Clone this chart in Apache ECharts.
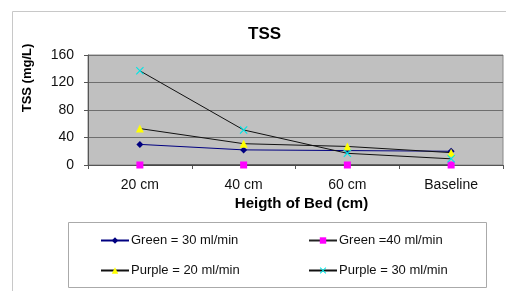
<!DOCTYPE html>
<html lang="en">
<head>
    <meta charset="UTF-8">
    <title>TSS</title>
    <script src="https://cdn.jsdelivr.net/npm/echarts@6/dist/echarts.min.js"></script>
    <style>
        html, body { margin: 0; padding: 0; background: #fff; }
        #fig1 { width: 506px; height: 291px; }
    </style>
</head>
<body>
    <div id="fig1"></div>
    <script>
        // 数据
        let categories = ['20 cm', '40 cm', '60 cm', 'Baseline'];
        let green30 = [30, 22, 21, 20];
        let green40 = [0, 0, 0, 0];
        let purple20 = [53, 31, 27, 18];
        let purple30 = [137, 51, 17, 9];
        let seriesNames = ['Green = 30 ml/min', 'Green =40 ml/min', 'Purple = 20 ml/min', 'Purple = 30 ml/min'];

        let font = 'Liberation Sans, Arial, sans-serif';
        let crossPath = 'path://M0,1L1,0L5,4L9,0L10,1L6,5L10,9L9,10L5,6L1,10L0,9L4,5Z';

        function makeLegend (name, left, top) {
            return {
                data: [name],
                left: left,
                top: top,
                itemWidth: 28,
                itemHeight: 8,
                padding: 0,
                itemGap: 2,
                selectedMode: false,
                textStyle: { fontFamily: font, fontSize: 13, color: '#111', padding: [0, 0, 0, -3] }
            };
        }

        let fig1 = echarts.init(document.getElementById('fig1'), null, {renderer: 'canvas'});
        let option = {
            animation: false,
            backgroundColor: '#fff',
            title: {
                text: 'TSS',
                left: 248,
                top: 26,
                padding: 0,
                textStyle: { fontFamily: font, fontSize: 17, fontWeight: 'bold', color: '#000' }
            },
            graphic: [
                {
                    type: 'rect', left: 12, top: 11, z: -10,
                    shape: { width: 500, height: 290 },
                    style: { fill: '#fff', stroke: '#c8c8c8', lineWidth: 1 }
                },
                {
                    type: 'rect', left: 68, top: 222, z: -5,
                    shape: { width: 418, height: 65 },
                    style: { fill: '#fff', stroke: '#aaa', lineWidth: 1 }
                },
                {
                    type: 'text', x: 27, y: 78, rotation: Math.PI / 2,
                    style: {
                        text: 'TSS (mg/L)', fontFamily: font, fontSize: 13, fontWeight: 'bold', fill: '#000',
                        align: 'center', verticalAlign: 'middle'
                    }
                }
            ],
            legend: [
                makeLegend(seriesNames[0], 100, 234),
                makeLegend(seriesNames[1], 308, 234),
                makeLegend(seriesNames[2], 100, 264),
                makeLegend(seriesNames[3], 308, 264)
            ],
            grid: {
                left: 88,
                right: 3,
                top: 55,
                bottom: 126,
                show: true,
                backgroundColor: '#c0c0c0',
                borderColor: '#888',
                borderWidth: 1
            },
            xAxis: {
                type: 'category',
                data: categories,
                boundaryGap: true,
                name: 'Heigth of Bed (cm)',
                nameLocation: 'center',
                nameGap: 31,
                nameTextStyle: { fontFamily: font, fontSize: 15, fontWeight: 'bold', color: '#000', padding: [0, 0, 0, 12] },
                axisLine: { lineStyle: { color: '#555' } },
                axisTick: { show: true, inside: false, length: 4, lineStyle: { color: '#555' } },
                axisLabel: { fontFamily: font, fontSize: 14, color: '#111', margin: 13 }
            },
            yAxis: {
                type: 'value',
                min: 0,
                max: 160,
                interval: 40,
                axisLine: { show: true, lineStyle: { color: '#555' } },
                axisTick: { show: true, length: 4, lineStyle: { color: '#555' } },
                axisLabel: { fontFamily: font, fontSize: 14, color: '#111', margin: 14 },
                splitLine: { show: true, lineStyle: { color: '#6e6e6e', width: 1 } }
            },
            series: [
                {
                    name: seriesNames[0], type: 'line', data: green30,
                    symbol: 'diamond', symbolSize: 7,
                    lineStyle: { color: '#000080', width: 1 },
                    itemStyle: { color: '#000080' }
                },
                {
                    name: seriesNames[1], type: 'line', data: green40,
                    symbol: 'rect', symbolSize: 7,
                    lineStyle: { color: '#222', width: 1 },
                    itemStyle: { color: '#ff00ff' }
                },
                {
                    name: seriesNames[2], type: 'line', data: purple20,
                    symbol: 'triangle', symbolSize: 8,
                    lineStyle: { color: '#111', width: 1 },
                    itemStyle: { color: '#ffff00' }
                },
                {
                    name: seriesNames[3], type: 'line', data: purple30,
                    symbol: crossPath, symbolSize: 8,
                    lineStyle: { color: '#111', width: 1 },
                    itemStyle: { color: '#00e5e5' }
                }
            ]
        };
        fig1.setOption(option);
    </script>
</body>
</html>
